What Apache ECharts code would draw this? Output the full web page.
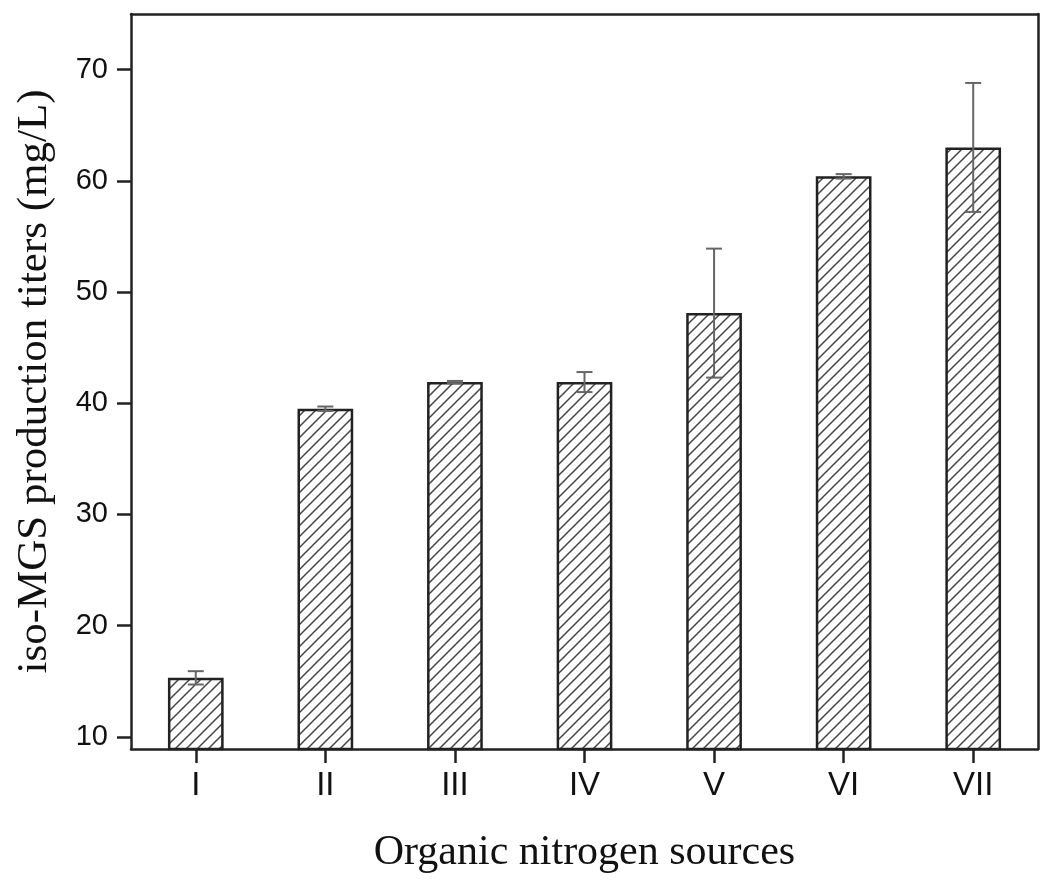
<!DOCTYPE html>
<html>
<head>
<meta charset="utf-8">
<script src="https://cdn.jsdelivr.net/npm/echarts@6/dist/echarts.min.js"></script>
<style>
  html, body { margin: 0; padding: 0; background: #fff; }
  #chart { width: 1050px; height: 885px; }
</style>
</head>
<body>
<div id="chart"></div>
<script>
// data
const categories = ['I', 'II', 'III', 'IV', 'V', 'VI', 'VII'];
const titers = [15.3, 39.5, 41.9, 41.9, 48.1, 60.4, 63.0];
const errors = [0.6, 0.2, 0.1, 0.9, 5.8, 0.2, 5.8];
const yTicks = [10, 20, 30, 40, 50, 60, 70];

// diagonal hatch tile for the bars
function makeHatch() {
    const c = document.createElement('canvas');
    const s = 11;
    c.width = s; c.height = s;
    const ctx = c.getContext('2d');
    ctx.fillStyle = '#fff';
    ctx.fillRect(0, 0, s, s);
    ctx.strokeStyle = '#444';
    ctx.lineWidth = 1.5;
    ctx.beginPath();
    ctx.moveTo(0, s); ctx.lineTo(s, 0);
    ctx.moveTo(-s / 2, s / 2); ctx.lineTo(s / 2, -s / 2);
    ctx.moveTo(s / 2, s * 1.5); ctx.lineTo(s * 1.5, s / 2);
    ctx.stroke();
    return c;
}

const chart = echarts.init(document.getElementById('chart'));

const errData = titers.map((v, i) => [i, v - errors[i], v + errors[i]]);

const axisColor = '#222';
const tickStyle = { color: axisColor, width: 2.5 };

// top / right frame lines, no ticks or labels
const frameX = {
    type: 'category', data: categories, position: 'top',
    axisLine: { show: true, onZero: false, lineStyle: tickStyle },
    axisTick: { show: false }, axisLabel: { show: false }, splitLine: { show: false }
};
const frameY = {
    type: 'value', min: 8.9, max: 75, position: 'right',
    axisLine: { show: true, onZero: false, lineStyle: tickStyle },
    axisTick: { show: false }, axisLabel: { show: false }, splitLine: { show: false }
};

const option = {
    animation: false,
    grid: { left: 131, right: 12, top: 14, bottom: 136 },
    xAxis: [
        {
            type: 'category',
            data: categories,
            position: 'bottom',
            z: 10,
            name: 'Organic nitrogen sources',
            nameLocation: 'middle',
            nameGap: 83,
            nameTextStyle: { fontFamily: 'Liberation Serif', fontSize: 42, color: '#111' },
            axisLine: { show: true, onZero: false, lineStyle: tickStyle },
            axisTick: { show: true, inside: false, interval: 0, alignWithLabel: true, length: 14, lineStyle: tickStyle },
            axisLabel: { fontFamily: 'Liberation Sans', fontSize: 33, color: '#111', margin: 20 },
            splitLine: { show: false }
        },
        frameX
    ],
    yAxis: [
        {
            type: 'value',
            min: 8.9,
            max: 75,
            position: 'left',
            name: 'iso-MGS production titers (mg/L)',
            nameLocation: 'middle',
            nameGap: 75,
            nameTextStyle: { fontFamily: 'Liberation Serif', fontSize: 43, color: '#111' },
            axisLine: { show: true, onZero: false, lineStyle: tickStyle },
            axisTick: { show: true, length: 14, customValues: yTicks, lineStyle: tickStyle },
            axisLabel: { fontFamily: 'Liberation Sans', fontSize: 29, color: '#111', margin: 23, customValues: yTicks },
            splitLine: { show: false }
        },
        frameY
    ],
    series: [
        {
            type: 'bar',
            data: titers,
            barWidth: '43%',
            itemStyle: {
                color: { image: makeHatch(), repeat: 'repeat' },
                borderColor: axisColor,
                borderWidth: 2.5
            }
        },
        {
            // error bars
            type: 'custom',
            data: errData,
            z: 10,
            renderItem: function (params, api) {
                const x = api.value(0);
                const lo = api.coord([x, api.value(1)]);
                const hi = api.coord([x, api.value(2)]);
                const half = 8;
                const style = { stroke: '#666', lineWidth: 2 };
                return {
                    type: 'group',
                    children: [
                        { type: 'line', shape: { x1: hi[0], y1: hi[1], x2: lo[0], y2: lo[1] }, style: style },
                        { type: 'line', shape: { x1: hi[0] - half, y1: hi[1], x2: hi[0] + half, y2: hi[1] }, style: style },
                        { type: 'line', shape: { x1: lo[0] - half, y1: lo[1], x2: lo[0] + half, y2: lo[1] }, style: style }
                    ]
                };
            }
        }
    ]
};

chart.setOption(option);
</script>
</body>
</html>
